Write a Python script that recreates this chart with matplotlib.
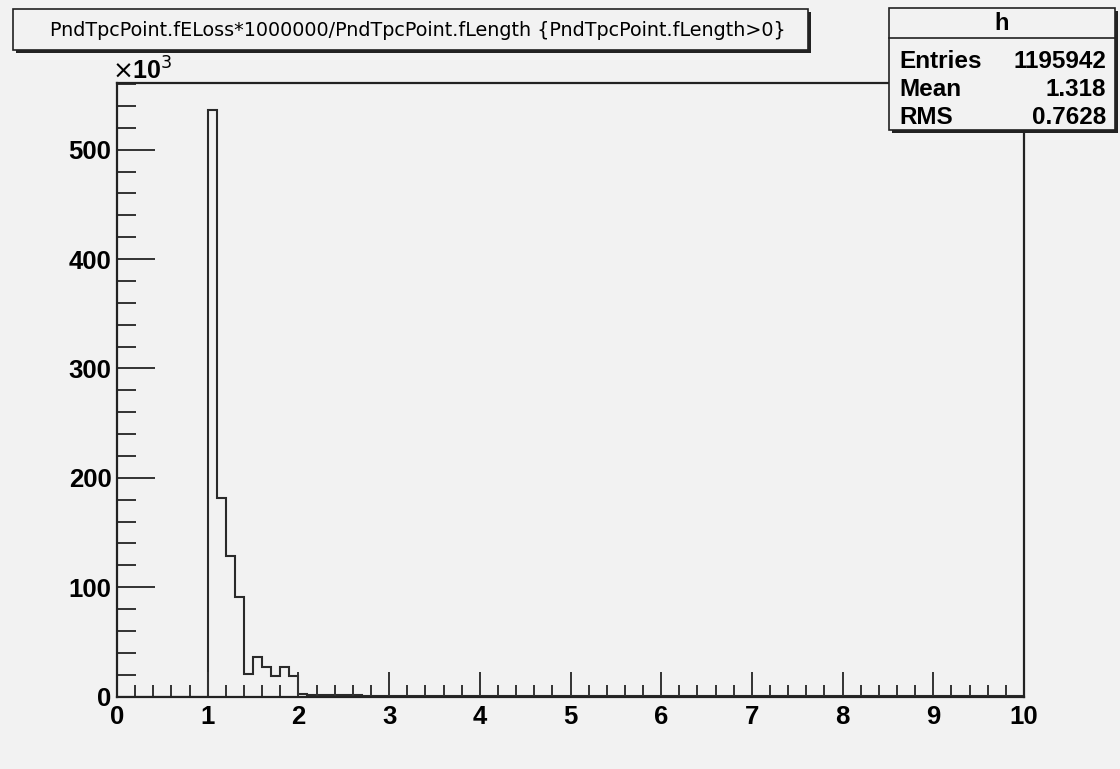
import numpy as np
import matplotlib
matplotlib.use("Agg")
import matplotlib.pyplot as plt
from matplotlib.patches import Rectangle
from matplotlib.ticker import MultipleLocator

# histogram contents (thousands of entries), 100 bins of width 0.1 on [0, 10]
x_lo = 0.0
x_hi = 10.0
n_bins = 100
counts_k = [0.0] * 10 + [
    536.0, 181.6, 128.5, 91.0, 20.6, 35.9, 27.3, 19.0, 26.7, 19.0,
    2.0, 1.8, 1.6, 1.5, 1.4, 1.3, 1.1, 0.8, 0.5, 0.4,
    0.3, 0.3, 0.2, 0.2, 0.2, 0.1, 0.1, 0.1, 0.1, 0.1,
] + [0.05] * 20 + [0.02] * 40

title_txt = "PndTpcPoint.fELoss*1000000/PndTpcPoint.fLength {PndTpcPoint.fLength>0}"
stat_name = "h"
stat_rows = [("Entries", "1195942"), ("Mean", "1.318"), ("RMS", "0.7628")]
y_max = 561.0

bg = "#f2f2f2"
fnt = "Liberation Sans"

fig = plt.figure(figsize=(11.2, 7.69), dpi=100, facecolor=bg)
ax = fig.add_axes([117/1120, 1 - 696.5/769, 907/1120, 613.5/769], facecolor=bg)

edges = np.linspace(x_lo, x_hi, n_bins + 1)
ax.stairs(counts_k, edges, color="#2a2a2a", lw=1.5, baseline=0)

ax.set_xlim(x_lo, x_hi)
ax.set_ylim(0, y_max)
ax.xaxis.set_major_locator(MultipleLocator(1))
ax.xaxis.set_minor_locator(MultipleLocator(0.2))
ax.yaxis.set_major_locator(MultipleLocator(100))
ax.yaxis.set_minor_locator(MultipleLocator(20))
ax.tick_params(axis="x", which="major", direction="in", length=18, width=1.4, pad=6, color="#333333")
ax.tick_params(axis="x", which="minor", direction="in", length=9, width=1.4, color="#333333")
ax.tick_params(axis="y", which="major", direction="in", length=27, width=1.4, pad=4, color="#333333")
ax.tick_params(axis="y", which="minor", direction="in", length=14, width=1.4, color="#333333")
for lab in ax.get_xticklabels() + ax.get_yticklabels():
    lab.set_fontfamily(fnt)
    lab.set_fontweight("bold")
    lab.set_fontsize(18.5)
for sp in ax.spines.values():
    sp.set_linewidth(1.6)
    sp.set_color("#222222")

fig.text(112/1120, 1 - 71/769, r"$\times$10$^{3}$", fontsize=18, fontweight="bold",
         family=fnt, ha="left", va="center")

# title box with shadow
def box(x0, y0, x1, y1):
    w = (x1 - x0) / 1120
    h = (y1 - y0) / 769
    fx = x0 / 1120
    fy = 1 - y1 / 769
    fig.add_artist(Rectangle((fx + 3/1120, fy - 3/769), w, h, transform=fig.transFigure,
                             facecolor="#222222", edgecolor="none", zorder=5))
    fig.add_artist(Rectangle((fx, fy), w, h, transform=fig.transFigure,
                             facecolor=bg, edgecolor="#222222", lw=1.2, zorder=6))

box(13, 9, 808, 50)
fig.text(418/1120, 1 - 31/769, title_txt, fontsize=13.8, family="DejaVu Sans",
         ha="center", va="center", zorder=7)

# stats box
box(889, 8, 1115, 130)
fig.add_artist(plt.Line2D([889/1120, 1115/1120], [1 - 38/769, 1 - 38/769],
                          transform=fig.transFigure, color="#222222", lw=1.2, zorder=7))
fig.text(1002/1120, 1 - 24/769, stat_name, fontsize=17, fontweight="bold", family=fnt,
         ha="center", va="center", zorder=7)
for i, (k, v) in enumerate(stat_rows):
    yy = 1 - (61 + i * 28.5) / 769
    fig.text(899/1120, yy, k, fontsize=17.5, fontweight="bold", family=fnt,
             ha="left", va="center", zorder=7)
    fig.text(1106/1120, yy, v, fontsize=17.5, fontweight="bold", family=fnt,
             ha="right", va="center", zorder=7)

fig.savefig("out.png", dpi=100, facecolor=bg)
